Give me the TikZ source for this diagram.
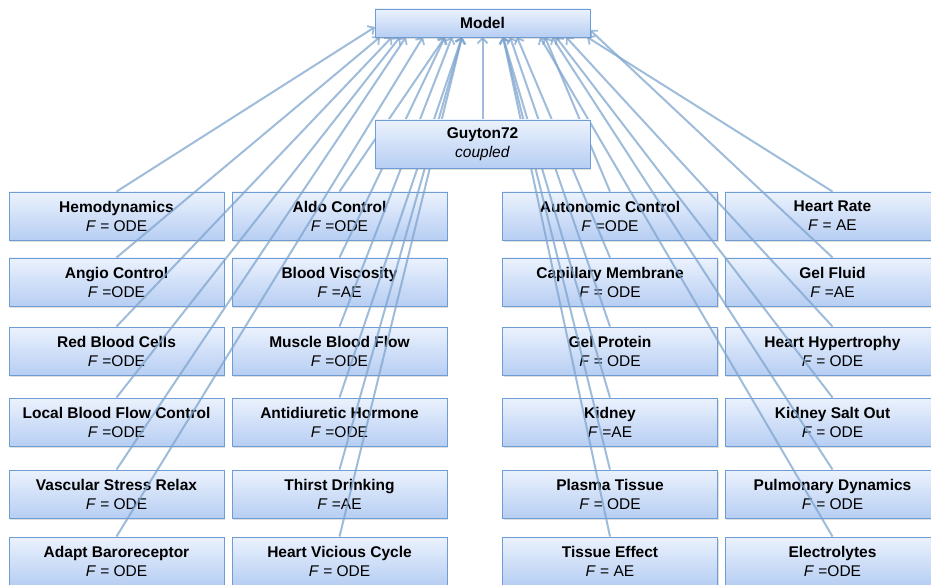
\documentclass[tikz,border=0pt]{standalone}
\usepackage{fontspec}
\setmainfont{Liberation Sans}
\usetikzlibrary{arrows.meta,shadows}
\pgfdeclarelayer{boxes}
\pgfdeclarelayer{lines}
\pgfsetlayers{boxes,lines,main}
\definecolor{boxtop}{HTML}{EBF2FD}
\definecolor{boxbot}{HTML}{B7CEF3}
\definecolor{boxline}{HTML}{6E9DD3}
\definecolor{arrcol}{HTML}{7FA5CF}
\tikzset{
  gbox/.style={draw=boxline, line width=0.9pt, top color=boxtop, bottom color=boxbot,
    minimum width=215pt, minimum height=48pt, inner sep=0pt, align=center,
    font=\fontsize{15.5}{19}\selectfont,
    drop shadow={shadow xshift=1pt, shadow yshift=-2pt, opacity=0.25}},
  arr/.style={draw=arrcol, draw opacity=0.75, line width=2pt,
    -{Straight Barb[length=5pt,width=10pt,line width=1.8pt]}}
}
\newcommand\gbox[4]{\node[gbox] (#1) at (#2) {\textbf{#3}\\#4};}
\begin{document}
\begin{tikzpicture}[x=1pt,y=-1pt]
\useasboundingbox (0,0) rectangle (931,585);
% top nodes
\node[gbox, minimum height=28pt] (model) at (482.5,23) {\textbf{Model}};
\node[gbox] (guyton) at (482.5,144) {\textbf{Guyton72}\\\textit{coupled}};
\begin{pgfonlayer}{boxes}
% column 1
\gbox{hemo}{116.5,216}{Hemodynamics}{\textit{F} = ODE}
\gbox{angio}{116.5,282}{Angio Control}{\textit{F} =ODE}
\gbox{rbc}{116.5,351}{Red Blood Cells}{\textit{F} =ODE}
\gbox{local}{116.5,422}{Local Blood Flow Control}{\textit{F} =ODE}
\gbox{vasc}{116.5,494}{Vascular Stress Relax}{\textit{F} = ODE}
\gbox{adapt}{116.5,561}{Adapt Baroreceptor}{\textit{F} = ODE}
% column 2
\gbox{aldo}{339.5,216}{Aldo Control}{\textit{F} =ODE}
\gbox{visc}{339.5,282}{Blood Viscosity}{\textit{F} =AE}
\gbox{muscle}{339.5,351}{Muscle Blood Flow}{\textit{F} =ODE}
\gbox{adh}{339.5,422}{Antidiuretic Hormone}{\textit{F} =ODE}
\gbox{thirst}{339.5,494}{Thirst Drinking}{\textit{F} =AE}
\gbox{hvc}{339.5,561}{Heart Vicious Cycle}{\textit{F} = ODE}
% column 3
\gbox{auto}{610,216}{Autonomic Control}{\textit{F} =ODE}
\gbox{cap}{610,282}{Capillary Membrane}{\textit{F} = ODE}
\gbox{gelp}{610,351}{Gel Protein}{\textit{F} = ODE}
\gbox{kidney}{610,422}{Kidney}{\textit{F} =AE}
\gbox{plasma}{610,494}{Plasma Tissue}{\textit{F} = ODE}
\gbox{tissue}{610,561}{Tissue Effect}{\textit{F} = AE}
% column 4
\gbox{hrate}{832.5,216}{Heart Rate}{\textit{F} = AE}
\gbox{gelf}{832.5,282}{Gel Fluid}{\textit{F} =AE}
\gbox{hyper}{832.5,351}{Heart Hypertrophy}{\textit{F} = ODE}
\gbox{ksalt}{832.5,422}{Kidney Salt Out}{\textit{F} = ODE}
\gbox{pulm}{832.5,494}{Pulmonary Dynamics}{\textit{F} = ODE}
\gbox{elec}{832.5,561}{Electrolytes}{\textit{F} =ODE}
\end{pgfonlayer}
% arrow targets on Model
\coordinate (tL) at (375,27);
\coordinate (tR) at (590,30);
\coordinate (tG) at (482.5,37);
\foreach \x in {380,392,400,406,423,445,452,462,503,510,517,540,545,552,556,566,587}
  \coordinate (b\x) at (\x,37);
\begin{pgfonlayer}{lines}
\foreach \s/\t in {hemo/tL, angio/b380, rbc/b392, local/b400, vasc/b406, adapt/b423,
  aldo/b445, visc/b445, muscle/b452, adh/b462, thirst/b462, hvc/b462,
  guyton/tG,
  auto/b545, cap/b517, gelp/b510, kidney/b503, plasma/b503, tissue/b503,
  hrate/b587, gelf/tR, hyper/b566, ksalt/b556, pulm/b552, elec/b540}
  \draw[arr] (\s.north) -- (\t);
\end{pgfonlayer}
\end{tikzpicture}
\end{document}
